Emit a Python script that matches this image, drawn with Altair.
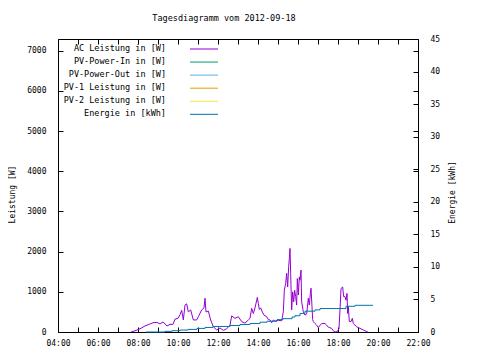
import altair as alt
import pandas as pd

FONT = "DejaVu Sans Mono"
chart_title = "Tagesdiagramm vom 2012-09-18"
day = "2012-09-18"

# AC power (W)
ac_times = ["07:39", "07:51", "08:06", "08:21", "08:36", "08:45", "08:57", "09:06", "09:15", "09:27",
            "09:36", "09:45", "09:51", "10:00", "10:06", "10:11", "10:16", "10:21", "10:26", "10:31",
            "10:38", "10:46", "10:56", "11:01", "11:11", "11:18", "11:21", "11:24", "11:31", "11:38",
            "11:46", "11:56", "12:06", "12:16", "12:26", "12:36", "12:41", "12:51", "13:01", "13:11",
            "13:21", "13:31", "13:36", "13:41", "13:46", "13:51", "13:58", "14:01", "14:04", "14:08",
            "14:13", "14:18", "14:26", "14:31", "14:36", "14:41", "14:46", "14:51", "15:01", "15:11",
            "15:16", "15:19", "15:23", "15:26", "15:29", "15:32", "15:34", "15:36", "15:38", "15:41",
            "15:44", "15:47", "15:50", "15:53", "15:56", "15:58", "16:01", "16:04", "16:06", "16:09",
            "16:11", "16:16", "16:21", "16:26", "16:31", "16:34", "16:37", "16:39", "16:42", "16:44",
            "16:46", "16:51", "16:56", "17:01", "17:06", "17:11", "17:21", "17:26", "17:31", "17:41",
            "17:46", "17:51", "17:58", "18:03", "18:06", "18:09", "18:14", "18:17", "18:21", "18:24",
            "18:27", "18:29", "18:31", "18:34", "18:39", "18:43", "18:46", "18:51", "18:56", "19:06",
            "19:16", "19:26", "19:30"]
ac_watts = [0, 30, 80, 150, 200, 230, 240, 200, 250, 150,
            190, 190, 320, 340, 430, 540, 300, 670, 700, 500,
            550, 300, 300, 380, 550, 600, 840, 500, 520, 300,
            130, 50, 100, 40, 80, 170, 400, 340, 380, 260,
            220, 300, 340, 590, 460, 600, 860, 710, 560, 600,
            500, 420, 380, 310, 300, 230, 300, 270, 290, 280,
            500, 1040, 1210, 1460, 1120, 1620, 1830, 2080, 1460, 550,
            1000, 750, 1040, 880, 670, 1330, 920, 1370, 1290, 1540,
            750, 500, 420, 450, 840, 670, 960, 1090, 630, 310,
            260, 210, 170, 110, 170, 210, 210, 170, 120, 90,
            30, 0, 10, 90, 550, 1080, 1120, 880, 880, 790,
            960, 460, 630, 260, 260, 340, 210, 170, 130, 90,
            50, 10, 0]

# Daily energy (kWh)
energy_times = ["08:24", "09:21", "09:42", "10:06", "10:30", "10:57", "11:21", "11:45", "12:36", "13:06",
                "13:36", "14:06", "14:27", "14:57", "15:15", "15:42", "15:51", "16:06", "16:21", "16:51",
                "17:06", "18:24", "18:51", "19:45"]
energy_kwh = [0.0, 0.1, 0.2, 0.3, 0.4, 0.55, 0.7, 0.85, 1.0, 1.15,
              1.3, 1.5, 1.65, 1.9, 2.05, 2.3, 2.5, 2.85, 3.2, 3.4,
              3.6, 3.95, 4.1, 4.1]

legend_labels = ["AC Leistung in [W]", "PV-Power-In in [W]", "PV-Power-Out in [W]",
                 "PV-1 Leistung in [W]", "PV-2 Leistung in [W]", "Energie in [kWh]"]
legend_colors = ["#9400d3", "#009e73", "#56b4e9", "#e69f00", "#f0e442", "#0072b2"]

power_ticks = [0, 1000, 2000, 3000, 4000, 5000, 6000, 7000]
energy_ticks = [0, 5, 10, 15, 20, 25, 30, 35, 40, 45]
hour_ticks = list(range(4, 23))
power_max = 7290
energy_max = 45

ac_df = pd.DataFrame({"time": [f"{day}T{t}:00" for t in ac_times], "watt": ac_watts})
en_df = pd.DataFrame({"time": [f"{day}T{t}:00" for t in energy_times], "kwh": energy_kwh})
leg_df = pd.DataFrame({"label": legend_labels})


def dt(h):
    return alt.DateTime(year=2012, month=9, date=18, hours=h)


x_scale = alt.Scale(domain=[dt(4), dt(22)])
hour_values = [dt(h) for h in hour_ticks]

common_axis = dict(domain=False, grid=False, tickSize=5, tickWidth=1, tickColor="black",
                   labelFont=FONT, labelFontSize=8, labelColor="black",
                   titleFont=FONT, titleFontSize=8, titleFontWeight="normal", titleColor="black",
                   offset=-5)

x_bottom = alt.Axis(orient="bottom", values=hour_values, title=None, labelPadding=7,
                    labelExpr="hours(datum.value) % 2 == 0 ? timeFormat(datum.value, '%H:%M') : ''",
                    labelFlush=False, labelOverlap=False, **common_axis)
x_top = alt.Axis(orient="top", values=hour_values, title=None, labels=False, **common_axis)

y_left = alt.Axis(orient="left", values=power_ticks, format="d", title="Leistung [W]", labelPadding=12,
                  titleAngle=270, titleX=-49, titleY=155, titleAlign="center", titleBaseline="alphabetic",
                  **common_axis)
y_right_mirror = alt.Axis(orient="right", values=power_ticks, title=None, labels=False, **common_axis)
y_right = alt.Axis(orient="right", values=energy_ticks, format="d", title="Energie [kWh]", labelPadding=12,
                   titleAngle=270, titleX=41, titleY=153, titleAlign="center", titleBaseline="alphabetic",
                   **common_axis)

power = alt.Chart(ac_df).mark_line(color=legend_colors[0], strokeWidth=1).encode(
    x=alt.X("time:T", scale=x_scale, axis=x_bottom),
    y=alt.Y("watt:Q", scale=alt.Scale(domain=[0, power_max], nice=False, zero=True), axis=y_left),
)

power_mirror = alt.Chart(ac_df).mark_line(opacity=0).encode(
    x=alt.X("time:T", scale=x_scale, axis=None),
    y=alt.Y("watt:Q", scale=alt.Scale(domain=[0, power_max], nice=False, zero=True), axis=y_right_mirror),
)

energy = alt.Chart(en_df).mark_line(color=legend_colors[5], strokeWidth=1, interpolate="step-after").encode(
    x=alt.X("time:T", scale=x_scale, axis=x_top),
    y=alt.Y("kwh:Q", scale=alt.Scale(domain=[0, energy_max], nice=False), axis=y_right),
)

leg_y = alt.Y("label:N", scale=alt.Scale(type="point", domain=legend_labels, range=[10, 75.3], padding=0),
              axis=None)
leg_text = alt.Chart(leg_df).mark_text(font=FONT, fontSize=8.5, align="right", baseline="middle",
                                       color="black", dy=-1).encode(
    x=alt.value(108), y=leg_y, text="label:N")
leg_rule = alt.Chart(leg_df).mark_rule(strokeWidth=1).encode(
    x=alt.value(132), x2=alt.value(160), y=leg_y,
    color=alt.Color("label:N", scale=alt.Scale(domain=legend_labels, range=legend_colors), legend=None))

chart = alt.layer(power, power_mirror, energy, leg_text, leg_rule).resolve_scale(
    y="independent").resolve_axis(x="independent", y="independent").properties(
    width=360, height=293,
    title=alt.TitleParams(text=chart_title, font=FONT, fontSize=8.5, fontWeight="normal",
                          anchor="middle", dx=-14, dy=-9, color="black"),
    autosize=alt.AutoSizeParams(type="none"),
    padding={"left": 50, "top": 31, "right": 54, "bottom": 20},
    background="white",
).configure_view(stroke="black", strokeWidth=1)

chart.save("out.html", embed_options={"renderer": "svg", "actions": False})
